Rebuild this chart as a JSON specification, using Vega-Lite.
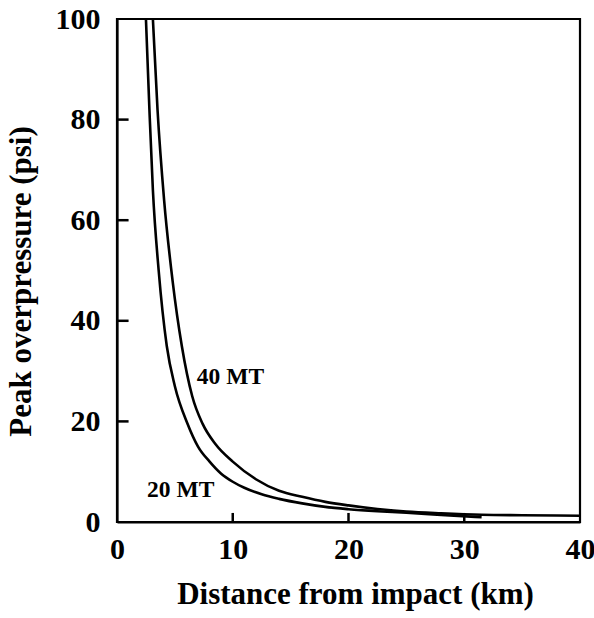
{
  "$schema": "https://vega.github.io/schema/vega-lite/v6.json",
  "width": 463,
  "height": 503,
  "autosize": "none",
  "padding": {"left": 117, "top": 19, "right": 14, "bottom": 96},
  "background": "white",
  "config": {
    "view": {"stroke": "black", "strokeWidth": 2.2},
    "font": "Liberation Serif",
    "axis": {
      "domain": true, "domainColor": "black", "domainWidth": 2.2,
      "grid": false, "ticks": false, "labelFlush": false,
      "labelFont": "Liberation Serif", "labelFontWeight": "bold", "labelFontSize": 30, "labelColor": "black",
      "titleFont": "Liberation Serif", "titleFontWeight": "bold", "titleFontSize": 31, "titleColor": "black"
    }
  },
  "datasets": {
    "curves": [
      {"series": "20 MT", "d": 2.5, "p": 100},
      {"series": "20 MT", "d": 2.8, "p": 82},
      {"series": "20 MT", "d": 3.1, "p": 66},
      {"series": "20 MT", "d": 3.6, "p": 50},
      {"series": "20 MT", "d": 4.3, "p": 35},
      {"series": "20 MT", "d": 5.0, "p": 27},
      {"series": "20 MT", "d": 6.1, "p": 19.5},
      {"series": "20 MT", "d": 7.0, "p": 15},
      {"series": "20 MT", "d": 8.0, "p": 12},
      {"series": "20 MT", "d": 9.0, "p": 9.6},
      {"series": "20 MT", "d": 10, "p": 8.0},
      {"series": "20 MT", "d": 11, "p": 6.8},
      {"series": "20 MT", "d": 12.5, "p": 5.5},
      {"series": "20 MT", "d": 14, "p": 4.6},
      {"series": "20 MT", "d": 16, "p": 3.7},
      {"series": "20 MT", "d": 18, "p": 3.0},
      {"series": "20 MT", "d": 20, "p": 2.55},
      {"series": "20 MT", "d": 22.5, "p": 2.15},
      {"series": "20 MT", "d": 25, "p": 1.85},
      {"series": "20 MT", "d": 28, "p": 1.4},
      {"series": "20 MT", "d": 31.5, "p": 0.95},
      {"series": "40 MT", "d": 3.1, "p": 100},
      {"series": "40 MT", "d": 3.5, "p": 82},
      {"series": "40 MT", "d": 4.07, "p": 64},
      {"series": "40 MT", "d": 4.8, "p": 48},
      {"series": "40 MT", "d": 5.6, "p": 35},
      {"series": "40 MT", "d": 6.5, "p": 25},
      {"series": "40 MT", "d": 7.4, "p": 19.5},
      {"series": "40 MT", "d": 8.5, "p": 15.5},
      {"series": "40 MT", "d": 10, "p": 12},
      {"series": "40 MT", "d": 12, "p": 8.5},
      {"series": "40 MT", "d": 14, "p": 6.2},
      {"series": "40 MT", "d": 16, "p": 5.0},
      {"series": "40 MT", "d": 18, "p": 4.0},
      {"series": "40 MT", "d": 20, "p": 3.3},
      {"series": "40 MT", "d": 22.5, "p": 2.6},
      {"series": "40 MT", "d": 25, "p": 2.1},
      {"series": "40 MT", "d": 28, "p": 1.75},
      {"series": "40 MT", "d": 31.5, "p": 1.45},
      {"series": "40 MT", "d": 35, "p": 1.35},
      {"series": "40 MT", "d": 40, "p": 1.25}
    ],
    "labels": [
      {"label": "40 MT", "d": 6.9, "p": 28.8},
      {"label": "20 MT", "d": 2.6, "p": 6.4}
    ],
    "ticks": [
      {"tick": "x10", "tx": 10, "ty": 0},
      {"tick": "x10", "tx": 10, "ty": 1.8},
      {"tick": "x20", "tx": 20, "ty": 0},
      {"tick": "x20", "tx": 20, "ty": 1.8},
      {"tick": "x30", "tx": 30, "ty": 0},
      {"tick": "x30", "tx": 30, "ty": 1.8},
      {"tick": "y20", "tx": 0, "ty": 20},
      {"tick": "y20", "tx": 1.0, "ty": 20},
      {"tick": "y40", "tx": 0, "ty": 40},
      {"tick": "y40", "tx": 1.0, "ty": 40},
      {"tick": "y60", "tx": 0, "ty": 60},
      {"tick": "y60", "tx": 1.0, "ty": 60},
      {"tick": "y80", "tx": 0, "ty": 80},
      {"tick": "y80", "tx": 1.0, "ty": 80}
    ]
  },
  "layer": [
    {
      "data": {"name": "curves"},
      "mark": {"type": "line", "interpolate": "monotone", "strokeWidth": 2.6, "clip": true},
      "encoding": {
        "x": {"field": "d", "type": "quantitative",
              "scale": {"domain": [0, 40], "nice": false},
              "axis": {"values": [0, 10, 20, 30, 40], "labelPadding": 12, "title": "Distance from impact (km)", "titlePadding": 15, "titleX": 238}},
        "y": {"field": "p", "type": "quantitative",
              "scale": {"domain": [0, 100], "nice": false},
              "axis": {"values": [0, 20, 40, 60, 80, 100], "labelPadding": 17, "title": "Peak overpressure (psi)", "titlePadding": 18, "titleY": 262}},
        "detail": {"field": "series"},
        "color": {"value": "black"}
      }
    },
    {
      "data": {"name": "ticks"},
      "mark": {"type": "line", "strokeWidth": 2.5, "color": "black"},
      "encoding": {
        "x": {"field": "tx", "type": "quantitative"},
        "y": {"field": "ty", "type": "quantitative"},
        "detail": {"field": "tick"}
      }
    },
    {
      "data": {"name": "labels"},
      "mark": {"type": "text", "align": "left", "baseline": "middle", "font": "Liberation Serif", "fontWeight": "bold", "fontSize": 23.5, "color": "black"},
      "encoding": {
        "x": {"field": "d", "type": "quantitative"},
        "y": {"field": "p", "type": "quantitative"},
        "text": {"field": "label"}
      }
    }
  ]
}
